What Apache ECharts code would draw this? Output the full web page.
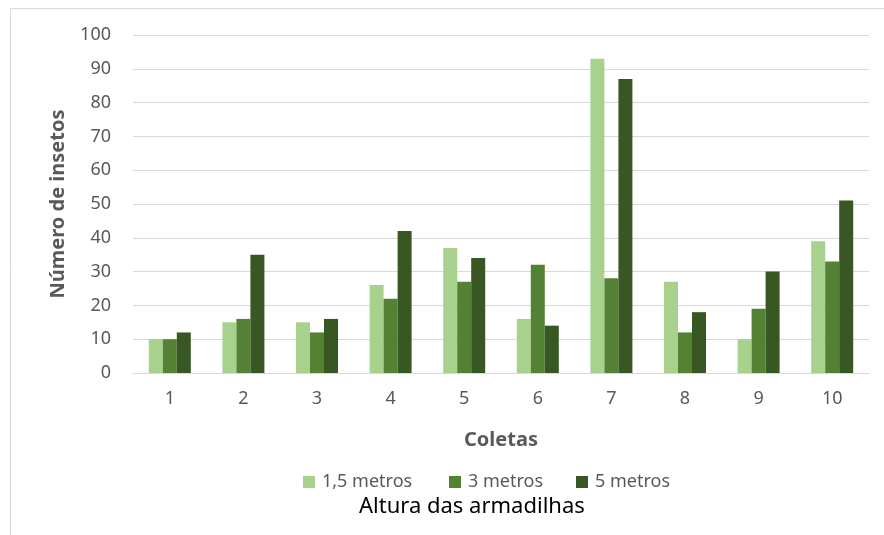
<!DOCTYPE html>
<html>
<head>
<meta charset="utf-8">
<script src="https://cdn.jsdelivr.net/npm/echarts@6/dist/echarts.min.js"></script>
<style>
  html, body { margin: 0; padding: 0; background: #ffffff; }
  #chart { width: 884px; height: 535px; }
</style>
</head>
<body>
<div id="chart"></div>
<script>
// Coletas (x categories)
const coletas = ['1', '2', '3', '4', '5', '6', '7', '8', '9', '10'];

// Número de insetos per trap height
const metros15 = [10, 15, 15, 26, 37, 16, 93, 27, 10, 39];
const metros3  = [10, 16, 12, 22, 27, 32, 28, 12, 19, 33];
const metros5  = [12, 35, 16, 42, 34, 14, 87, 18, 30, 51];

const seriesNames = ['1,5 metros', '3 metros', '5 metros'];
const seriesColors = ['#a9d18e', '#548235', '#385723'];

const FONT = 'Noto Sans';
const GREY = '#595959';

const chart = echarts.init(document.getElementById('chart'), null, { renderer: 'canvas' });

function bar(name, data, color) {
  return {
    name: name,
    type: 'bar',
    data: data,
    barWidth: 14,
    barGap: '0%',
    itemStyle: { color: color },
    emphasis: { disabled: true }
  };
}

// one legend entry per height, laid out along the bottom
function legendItem(name, left) {
  return {
    data: [name],
    left: left,
    top: 468,
    itemWidth: 12,
    itemHeight: 12,
    itemGap: 0,
    icon: 'rect',
    selectedMode: false,
    textStyle: { fontFamily: FONT, fontSize: 18, color: GREY, padding: [0, 0, 0, 2] }
  };
}

chart.setOption({
  animation: false,
  backgroundColor: '#ffffff',
  textStyle: { fontFamily: FONT },
  grid: { left: 133, right: 15, top: 35, bottom: 162, containLabel: false },
  xAxis: {
    type: 'category',
    data: coletas,
    name: 'Coletas',
    nameLocation: 'middle',
    nameGap: 57,
    nameTextStyle: { fontFamily: FONT, fontSize: 20, fontWeight: 'bold', color: GREY },
    axisLine: { show: true, lineStyle: { color: '#d9d9d9', width: 1 } },
    axisTick: { show: false },
    axisLabel: { fontFamily: FONT, fontSize: 18, color: GREY, margin: 17 }
  },
  yAxis: {
    type: 'value',
    min: 0,
    max: 100,
    interval: 10,
    name: 'Número de insetos',
    nameLocation: 'middle',
    nameGap: 65,
    nameRotate: 90,
    nameTextStyle: { fontFamily: FONT, fontSize: 20, fontWeight: 'bold', color: GREY },
    axisLine: { show: false },
    axisTick: { show: false },
    axisLabel: { fontFamily: FONT, fontSize: 18, color: GREY, margin: 22 },
    splitLine: { lineStyle: { color: '#d9d9d9', width: 1 } }
  },
  legend: [
    legendItem(seriesNames[0], 298),
    legendItem(seriesNames[1], 444),
    legendItem(seriesNames[2], 571)
  ],
  graphic: [
    {
      type: 'text',
      left: 359,
      top: 496,
      style: {
        text: 'Altura das armadilhas',
        fontFamily: FONT,
        fontSize: 22,
        fill: '#000000'
      },
      z: 10
    },
    {
      type: 'line',
      shape: { x1: 10.5, y1: 8.5, x2: 884, y2: 8.5 },
      style: { stroke: '#d9d9d9', lineWidth: 1 }
    },
    {
      type: 'line',
      shape: { x1: 10.5, y1: 8.5, x2: 10.5, y2: 535 },
      style: { stroke: '#d9d9d9', lineWidth: 1 }
    }
  ],
  series: [
    bar(seriesNames[0], metros15, seriesColors[0]),
    bar(seriesNames[1], metros3, seriesColors[1]),
    bar(seriesNames[2], metros5, seriesColors[2])
  ]
});
</script>
</body>
</html>
